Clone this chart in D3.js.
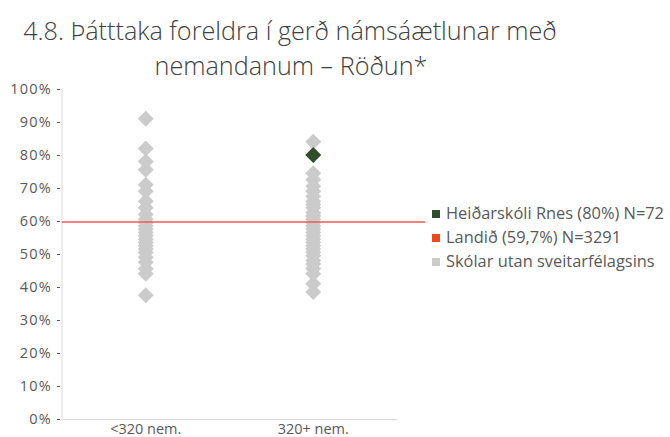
<!DOCTYPE html>
<html><head><meta charset="utf-8">
<script src="https://cdn.jsdelivr.net/npm/d3@7"></script>
<style>body{margin:0;background:#fff}svg{display:block}</style>
</head><body>
<script>
const categories = ["<320 nem.", "320+ nem."];
const otherSmall = [91, 82, 78, 75.5, 71, 69, 66, 64, 62, 60.5, 59.5, 58.5, 57.5, 56.5, 55.5, 54.5, 53.5, 52.5, 51.5, 50.5, 49, 47.5, 45.5, 44, 37.5];
const otherLarge = [84, 74.5, 72.5, 70.5, 69, 67.5, 66, 65, 64, 62.5, 61.5, 60.5, 59.5, 58.5, 57.5, 56.5, 55.5, 54.5, 53.5, 52.5, 51.5, 50.5, 49.5, 48, 47, 45.5, 44, 41, 38.5];
const schoolCategory = "320+ nem.";
const schoolValue = 80;
const nationalValue = 59.7;
const yTicks = [0,10,20,30,40,50,60,70,80,90,100];
const legendLabels = ["Heiðarskóli Rnes (80%) N=72", "Landið (59,7%) N=3291", "Skólar utan sveitarfélagsins"];
const colors = {school:"#2f4f2c", nat:"#f25a5a", natLegend:"#e84a1b", other:"#cbcbcb"};

const W=670,H=437;
const svg=d3.select("body").append("svg").attr("width",W).attr("height",H);
const font="'Open Sans', sans-serif";

const y=d3.scaleLinear().domain([0,100]).range([419,89]);
const x=d3.scaleBand().domain(categories).range([62,397]);

// title
svg.append("text").attr("x",290).attr("y",40).attr("text-anchor","middle")
  .attr("font-family",font).attr("font-weight",300).attr("font-size",25.2).attr("fill","#404040")
  .text("4.8. Þátttaka foreldra í gerð námsáætlunar með");
svg.append("text").attr("x",291).attr("y",75).attr("text-anchor","middle")
  .attr("font-family",font).attr("font-weight",300).attr("font-size",25.2).attr("fill","#404040")
  .text("nemandanum – Röðun*");

// y axis
const ya=svg.append("g").attr("transform","translate(62,0)")
  .call(d3.axisLeft(y).tickValues(yTicks).tickSize(4).tickPadding(6).tickFormat(d=>d+"%"));
ya.select(".domain").attr("stroke","#d9d9d9").attr("d","M0,89V419");
ya.selectAll(".tick line").attr("stroke","#595959").attr("x1",-5).attr("x2",-2);
ya.selectAll("text").attr("font-family",font).attr("font-size",14.5).attr("letter-spacing",1.2).attr("fill","#595959");

// x axis
const xa=svg.append("g").attr("transform","translate(0,419)")
  .call(d3.axisBottom(x).tickSize(0).tickPadding(5));
xa.select(".domain").attr("stroke","#d9d9d9");
xa.selectAll("text").attr("font-family",font).attr("font-size",14.5).attr("fill","#595959");

function diamond(cx,cy,r){return `M${cx},${cy-r}L${cx+r},${cy}L${cx},${cy+r}L${cx-r},${cy}Z`;}
const pts=[];
otherSmall.forEach(v=>pts.push({c:categories[0],v}));
otherLarge.forEach(v=>pts.push({c:categories[1],v}));
const cx=c=>x(c)+x.bandwidth()/2;

svg.append("g").selectAll("path").data(pts).join("path")
  .attr("d",d=>diamond(cx(d.c),y(d.v),8)).attr("fill",colors.other);

// national line
svg.append("line").attr("x1",62).attr("x2",425).attr("y1",y(nationalValue)).attr("y2",y(nationalValue))
  .attr("stroke",colors.nat).attr("stroke-width",1.5);

// school point
svg.append("path").attr("d",diamond(cx(schoolCategory),y(schoolValue),8)).attr("fill",colors.school);

// legend
const lc=[colors.school,colors.natLegend,colors.other];
const lg=svg.append("g");
legendLabels.forEach((t,i)=>{
  const yy=213+i*24;
  lg.append("rect").attr("x",432).attr("y",yy-3).attr("width",8).attr("height",8).attr("fill",lc[i]);
  lg.append("text").attr("x",446).attr("y",yy+6).attr("font-family",font).attr("font-size",16.4)
    .attr("fill","#595959").text(t);
});
</script>
</body></html>
